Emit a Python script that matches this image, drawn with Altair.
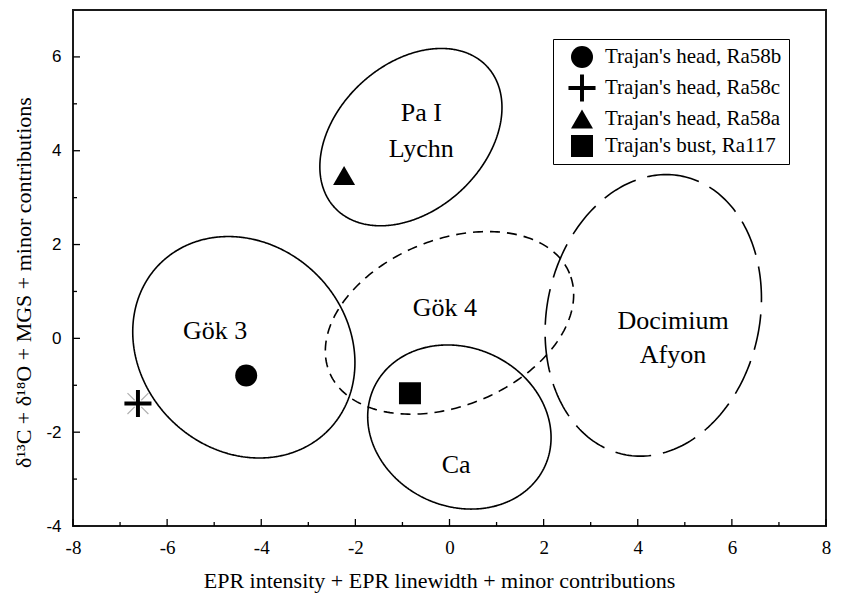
import numpy as np
import pandas as pd
import altair as alt

# Axis ranges
x_domain = [-8, 8]
y_domain = [-4, 7]

# Confidence ellipses of the quarry groups
regions = ["Pa I", "Gök 3", "Gök 4", "Ca", "Docimium"]
centre_x = [-0.82, -4.37, 0.0, 0.21, 4.33]
centre_y = [4.29, -0.19, 0.33, -1.89, 0.49]
semi_major = [2.21, 2.52, 2.76, 2.0, 3.03]
semi_minor = [1.56, 2.19, 1.77, 1.69, 2.26]
tilt_deg = [43, -45, 22.5, -25, 78]
outline = ["solid", "solid", "short dash", "solid", "long dash"]

# Quarry labels inside the ellipses
label_text = ["Pa I", "Lychn", "Gök 3", "Gök 4", "Ca", "Docimium", "Afyon"]
label_x = [-0.6, -0.6, -4.98, -0.1, 0.14, 4.75, 4.75]
label_y = [4.8, 4.03, 0.15, 0.64, -2.69, 0.38, -0.36]

# Samples
sample_names = ["Trajan's head, Ra58b", "Trajan's head, Ra58c",
                "Trajan's head, Ra58a", "Trajan's bust, Ra117"]
sample_x = [-4.32, -6.62, -2.24, -0.84]
sample_y = [-0.79, -1.39, 3.47, -1.17]

# Tick positions
x_major = [-8, -6, -4, -2, 0, 2, 4, 6, 8]
x_minor = [-7, -5, -3, -1, 1, 3, 5, 7]
y_major = [-4, -2, 0, 2, 4, 6]
y_minor = [-3, -1, 1, 3, 5]

W, H = 753, 516
serif = "Times New Roman, Liberation Serif, serif"
sans = "Arial, Liberation Sans, sans-serif"

# Outline points of each ellipse from its centre, semi-axes and tilt
rows = []
t = np.linspace(0, 2 * np.pi, 241)
for name, cx, cy, a, b, ang, sty in zip(regions, centre_x, centre_y,
                                        semi_major, semi_minor, tilt_deg, outline):
    th = np.radians(ang)
    ex = cx + a * np.cos(t) * np.cos(th) - b * np.sin(t) * np.sin(th)
    ey = cy + a * np.cos(t) * np.sin(th) + b * np.sin(t) * np.cos(th)
    for i, (px, py) in enumerate(zip(ex, ey)):
        rows.append({"region": name, "style": sty, "i": i, "x": px, "y": py})
ellipse_df = pd.DataFrame(rows)

labels_df = pd.DataFrame({"text": label_text, "x": label_x, "y": label_y})
samples_df = pd.DataFrame({"sample": sample_names, "x": sample_x, "y": sample_y})

xs = alt.Scale(domain=x_domain, nice=False, zero=False)
ys = alt.Scale(domain=y_domain, nice=False, zero=False)

x_axis = alt.Axis(values=x_major, labelExpr="toString(datum.value)",
                  labelFont=serif, labelFontSize=19,
                  titleFont=serif, titleFontSize=22, titlePadding=13, titleX=366,
                  title="EPR intensity + EPR linewidth + minor contributions")
y_axis = alt.Axis(values=y_major, labelExpr="toString(datum.value)",
                  labelFont=sans, labelFontSize=17,
                  titleFont=serif, titleFontSize=22, titlePadding=10, titleY=272,
                  title="δ¹³C + δ¹⁸O + MGS + minor contributions")


def X(field="x"):
    return alt.X(f"{field}:Q", scale=xs, axis=x_axis)


def Y(field="y"):
    return alt.Y(f"{field}:Q", scale=ys, axis=y_axis)


ellipses = alt.Chart(ellipse_df).mark_line(color="black", strokeWidth=1.6).encode(
    x=X(), y=Y(),
    order="i:Q",
    detail="region:N",
    strokeDash=alt.StrokeDash(
        "style:N",
        scale=alt.Scale(domain=["solid", "short dash", "long dash"],
                        range=[[1, 0], [10, 7], [36, 12]]),
        legend=None,
    ),
)

region_text = alt.Chart(labels_df).mark_text(font=serif, fontSize=26, color="black").encode(
    x=X(), y=Y(), text="text:N",
)

plus_path = "M-1.23,-0.18H-0.18V-1.23H0.18V-0.18H1.23V0.18H0.18V1.23H-0.18V0.18H-1.23Z"
star_path = ("M-0.95,-0.95L-0.3,-0.3M0.3,0.3L0.95,0.95"
             "M-0.95,0.95L-0.3,0.3M0.3,-0.3L0.95,-0.95")

points = alt.Chart(samples_df).mark_point(filled=True, color="black", opacity=1, size=484).encode(
    x=X(), y=Y(),
    shape=alt.Shape(
        "sample:N",
        scale=alt.Scale(domain=sample_names,
                        range=["circle", plus_path, "triangle-up", "square"]),
        legend=alt.Legend(
            title=None, orient="none", legendX=480, legendY=29,
            strokeColor="black", fillColor="white", padding=7,
            labelFont=serif, labelFontSize=21, labelColor="black", labelLimit=400,
            labelOffset=12, symbolSize=484, symbolOffset=11, rowPadding=6,
            symbolFillColor="black", symbolStrokeWidth=0,
        ),
    ),
)

# Faint diagonal rays around the Ra58c cross
rays = alt.Chart(samples_df[samples_df["sample"] == "Trajan's head, Ra58c"]).mark_point(
    shape=star_path, filled=False, stroke="#b0b0b0", strokeWidth=1.2, opacity=1, size=484
).encode(x=X(), y=Y())


# Inward tick marks on the bottom and left edges
def x_ticks(vals, length):
    return alt.Chart(pd.DataFrame({"x": vals})).mark_rule(color="black", strokeWidth=1.3).encode(
        x=X(), y=alt.value(H), y2=alt.value(H - length))


def y_ticks(vals, length):
    return alt.Chart(pd.DataFrame({"y": vals})).mark_rule(color="black", strokeWidth=1.3).encode(
        y=Y(), x=alt.value(0), x2=alt.value(length))


chart = alt.layer(
    ellipses,
    x_ticks(x_major, 7), x_ticks(x_minor, 4),
    y_ticks(y_major, 7), y_ticks(y_minor, 4),
    region_text, rays, points,
).properties(
    width=W, height=H,
    padding={"left": 73, "top": 10, "right": 19, "bottom": 80},
    autosize=alt.AutoSizeParams(type="none"),
    background="white",
).configure_view(
    stroke="#1a1a1a", strokeWidth=2,
).configure_axis(
    domain=False, grid=False, ticks=False, labelFlush=False, labelPadding=12,
    labelColor="black", titleColor="black", titleFontWeight="normal",
)

chart.save("out.html", embed_options={"renderer": "svg", "actions": False})
